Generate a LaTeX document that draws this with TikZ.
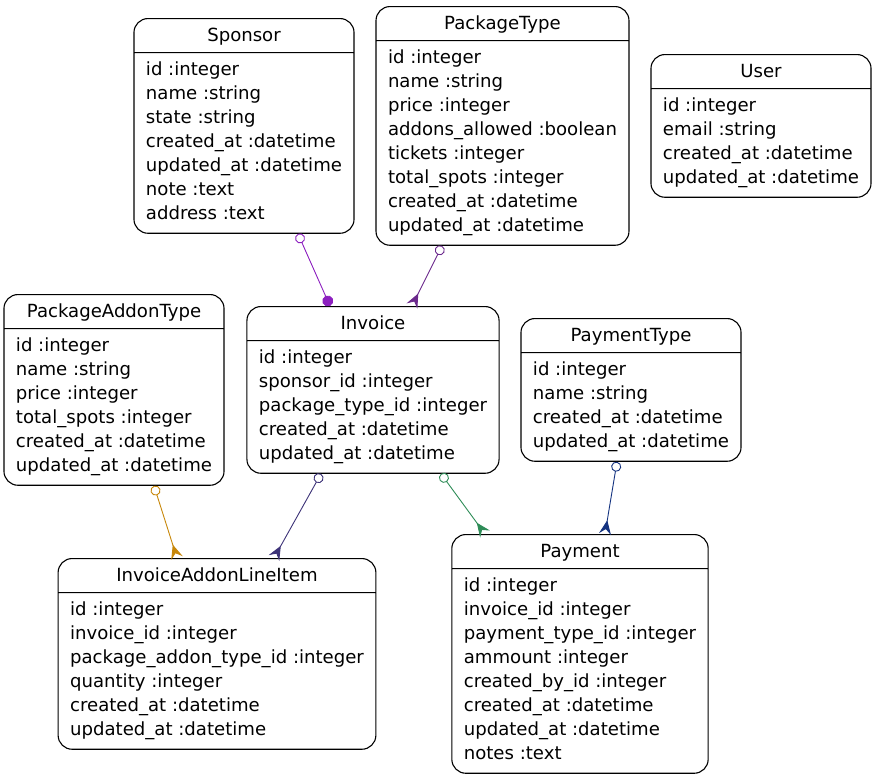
\documentclass[tikz,border=0pt]{standalone}
\usepackage{fontspec}
\setmainfont{DejaVu Sans}
\usetikzlibrary{arrows.meta}
\usetikzlibrary{shapes.multipart}
\tikzset{entity/.style = {rectangle split, rectangle split parts = 2, draw, line width = 1.1pt,
                          rounded corners = 14pt, inner xsep = 12pt, inner ysep = 0pt,
                          rectangle split part align = {center, left}, anchor = north,
                          font = \fontsize{18.1}{24}\selectfont}}
\tikzset{rel/.style = {line width = 0.9pt,
                       arrows = {Circle[open, length = 10pt, width = 10pt]-Stealth[reversed, length = 14pt, width = 12pt, inset = 5pt]}}}
\definecolor{mpurple}{rgb}{0.55, 0.12, 0.75}
\definecolor{mplum}{rgb}{0.42, 0.16, 0.55}
\definecolor{mgold}{rgb}{0.78, 0.53, 0.04}
\definecolor{mslate}{rgb}{0.24, 0.2, 0.47}
\definecolor{mgreen}{rgb}{0.18, 0.55, 0.34}
\definecolor{mnavy}{rgb}{0.08, 0.2, 0.5}
\newcommand{\headrow}{\rule[-11pt]{0pt}{33pt}}
\newcommand{\toprow}{\rule{0pt}{22.5pt}}
\newcommand{\lastrow}{\rule[-13pt]{0pt}{13pt}}

\begin{document}
\begin{tikzpicture}[x = 1pt, y = -1pt]
  \useasboundingbox (0, 0) rectangle (876, 779);
  \node [entity] (sponsor) at (244, 18) {\headrow Sponsor
    \nodepart{two}\begin{tabular}{@{}l@{}}
      \toprow id :integer\\ name :string\\ state :string\\ created\_at :datetime\\
      updated\_at :datetime\\ note :text\\ address :text\lastrow
    \end{tabular}};
  \node [entity] (packagetype) at (502.5, 6) {\headrow PackageType
    \nodepart{two}\begin{tabular}{@{}l@{}}
      \toprow id :integer\\ name :string\\ price :integer\\ addons\_allowed :boolean\\
      tickets :integer\\ total\_spots :integer\\ created\_at :datetime\\ updated\_at :datetime\lastrow
    \end{tabular}};
  \node [entity] (user) at (761, 54) {\headrow User
    \nodepart{two}\begin{tabular}{@{}l@{}}
      \toprow id :integer\\ email :string\\ created\_at :datetime\\ updated\_at :datetime\lastrow
    \end{tabular}};
  \node [entity] (addontype) at (114, 294) {\headrow PackageAddonType
    \nodepart{two}\begin{tabular}{@{}l@{}}
      \toprow id :integer\\ name :string\\ price :integer\\ total\_spots :integer\\
      created\_at :datetime\\ updated\_at :datetime\lastrow
    \end{tabular}};
  \node [entity] (invoice) at (373, 306) {\headrow Invoice
    \nodepart{two}\begin{tabular}{@{}l@{}}
      \toprow id :integer\\ sponsor\_id :integer\\ package\_type\_id :integer\\
      created\_at :datetime\\ updated\_at :datetime\lastrow
    \end{tabular}};
  \node [entity] (paymenttype) at (631, 318) {\headrow PaymentType
    \nodepart{two}\begin{tabular}{@{}l@{}}
      \toprow id :integer\\ name :string\\ created\_at :datetime\\ updated\_at :datetime\lastrow
    \end{tabular}};
  \node [entity] (lineitem) at (217, 558) {\headrow InvoiceAddonLineItem
    \nodepart{two}\begin{tabular}{@{}l@{}}
      \toprow id :integer\\ invoice\_id :integer\\ package\_addon\_type\_id :integer\\
      quantity :integer\\ created\_at :datetime\\ updated\_at :datetime\lastrow
    \end{tabular}};
  \node [entity] (payment) at (580, 534) {\headrow Payment
    \nodepart{two}\begin{tabular}{@{}l@{}}
      \toprow id :integer\\ invoice\_id :integer\\ payment\_type\_id :integer\\
      ammount :integer\\ created\_by\_id :integer\\ created\_at :datetime\\
      updated\_at :datetime\\ notes :text\lastrow
    \end{tabular}};
  % relations
  \draw [rel, mpurple, arrows = {Circle[open, length = 10pt, width = 10pt]-Circle[length = 11pt, width = 11pt]}]
    (298, 0 |- sponsor.south) -- (330, 0 |- invoice.north);
  \draw [rel, mplum] (442, 0 |- packagetype.south) -- (412, 0 |- invoice.north);
  \draw [rel, mgold] (154, 0 |- addontype.south) -- (177, 0 |- lineitem.north);
  \draw [rel, mslate] (321, 0 |- invoice.south) -- (274, 0 |- lineitem.north);
  \draw [rel, mgreen] (441, 0 |- invoice.south) -- (485, 0 |- payment.north);
  \draw [rel, mnavy] (617, 0 |- paymenttype.south) -- (605, 0 |- payment.north);
\end{tikzpicture}
\end{document}
